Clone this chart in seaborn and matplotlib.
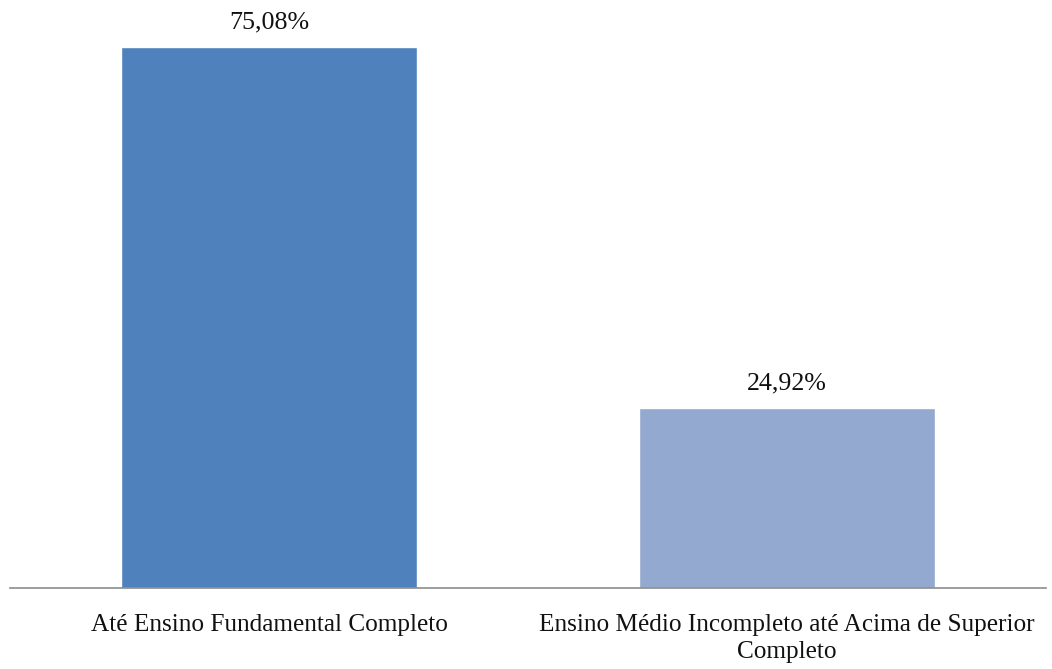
import matplotlib
matplotlib.use("Agg")
import matplotlib.pyplot as plt
import seaborn as sns
import pandas as pd

categories = ["Até Ensino Fundamental Completo",
              "Ensino Médio Incompleto até Acima de Superior\nCompleto"]
values = [75.08, 24.92]
value_labels = ["75,08%", "24,92%"]
bar_colors = ["#4F81BD", "#94A9CF"]

sns.set_theme(style="white")
plt.rcParams["font.family"] = ["Liberation Serif", "DejaVu Serif"]

fig = plt.figure(figsize=(10.52, 6.69), dpi=100)
ax = fig.add_axes([10 / 1052, 81 / 669, 1036 / 1052, 588 / 669])

df = pd.DataFrame({"cat": categories, "val": values})
sns.barplot(data=df, x="cat", y="val", hue="cat", palette=bar_colors,
            width=0.571, legend=False, ax=ax, saturation=1)

ax.set_xlim(-0.5, 1.5)
top = 75.08 * 588 / 541
ax.set_ylim(0, top)

# percentage labels above each bar
for i, (v, lab) in enumerate(zip(values, value_labels)):
    ax.annotate(lab, (i, v), xytext=(0, 10), textcoords="offset points",
                ha="center", va="bottom", fontsize=18.7, color="#111111")

for s in ["top", "right", "left"]:
    ax.spines[s].set_visible(False)
ax.spines["bottom"].set_color("#8c8c8c")
ax.spines["bottom"].set_linewidth(1.2)
ax.set_yticks([])
ax.set_xlabel("")
ax.set_ylabel("")
ax.tick_params(axis="x", length=0, pad=19, labelsize=18.2, labelcolor="#111111")
for t in ax.get_xticklabels():
    t.set_linespacing(1.3)

fig.savefig("out.png", dpi=100)
